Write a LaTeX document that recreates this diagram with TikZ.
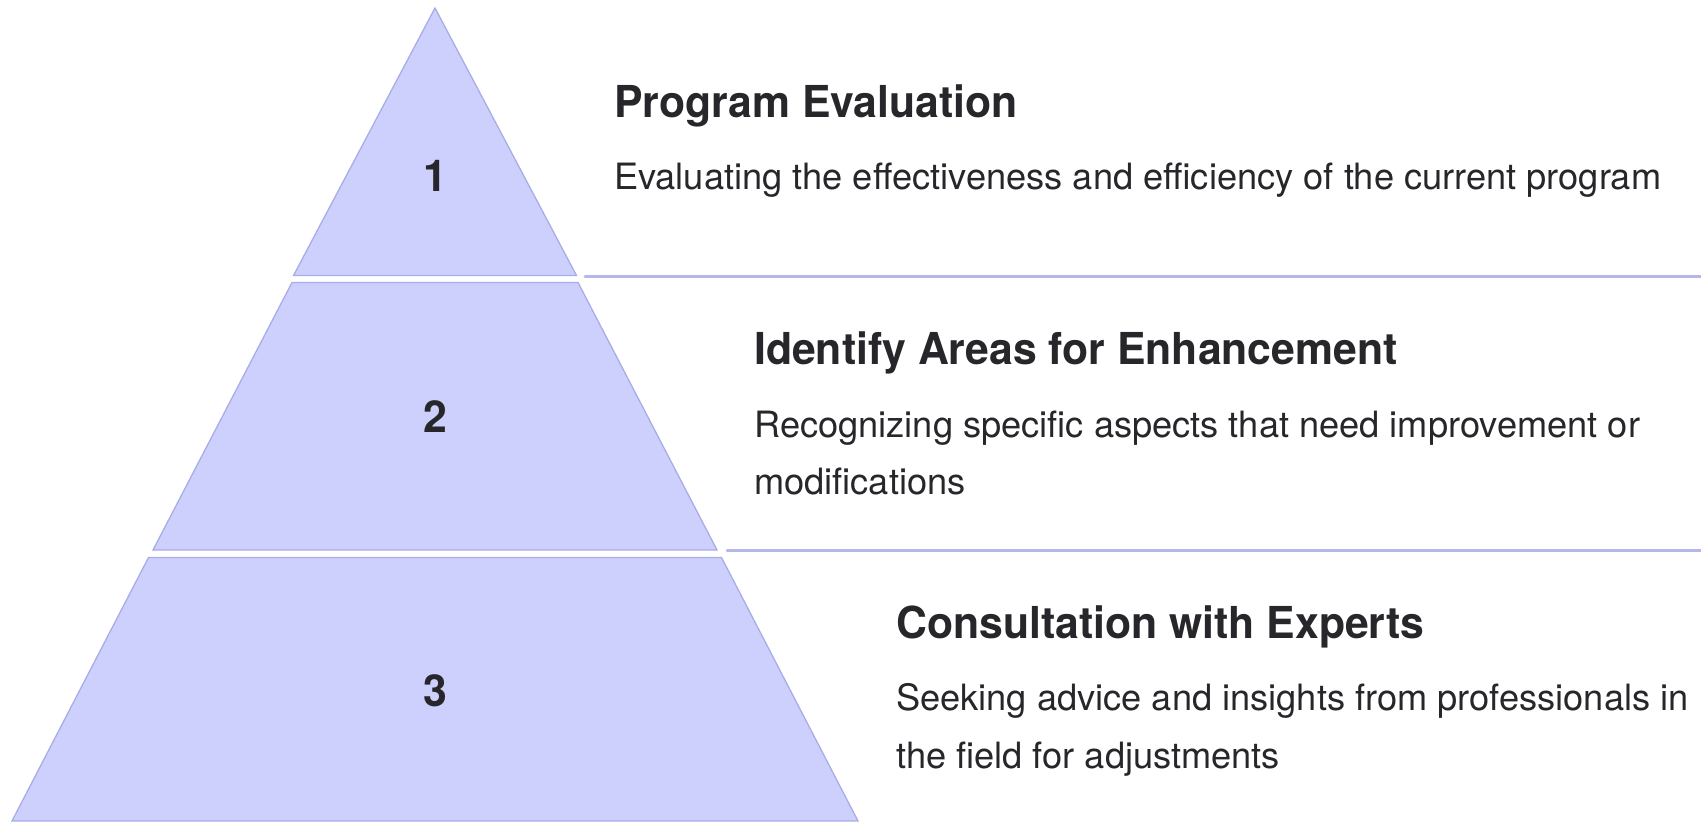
\documentclass[tikz,border=0pt]{standalone}
\usepackage{fontspec}
\setmainfont{TeX Gyre Heros}
\definecolor{tierfill}{HTML}{CDCFFD}
\definecolor{tierdraw}{HTML}{A9ADE6}
\definecolor{sepline}{HTML}{B3B7EA}
\definecolor{ink}{HTML}{27272B}
\newlength\mywa
\newlength\mywb
\newlength\mywc
\settowidth\mywa{\fontsize{44pt}{44pt}\selectfont\bfseries Program Evaluation}
\settowidth\mywb{\fontsize{44pt}{44pt}\selectfont\bfseries Identify Areas for Enhancement}
\settowidth\mywc{\fontsize{44pt}{44pt}\selectfont\bfseries Consultation with Experts}
\pgfmathsetmacro\stv{1575/(\mywa+\mywb+\mywc)}
\edef\mkttl{\noexpand\newfontfamily\noexpand\ttlfam[FakeStretch=\stv]{TeX Gyre Heros}}
\mkttl
\settowidth\mywa{\fontsize{10pt}{12pt}\selectfont Evaluating the effectiveness and efficiency of the current program}
\pgfmathsetmacro\bodysz{10*1047/\mywa}
\newcommand\ttlfont{\ttlfam\fontsize{44pt}{44pt}\selectfont\bfseries}
\newcommand\bdyfont{\fontsize{\bodysz pt}{\bodysz pt}\selectfont}
\tikzset{
  tier/.style={fill=tierfill, draw=tierdraw, line width=1.3pt, line join=miter},
  sepl/.style={draw=sepline, line width=3pt, line cap=round},
  ttl/.style={anchor=base west, inner sep=0pt, text=ink, font=\ttlfont},
  bodyl/.style={anchor=base west, inner sep=0pt, text=ink, font=\bdyfont},
  num/.style={anchor=base, inner sep=0pt, text=ink, font=\ttlfont},
}
\begin{document}
\begin{tikzpicture}[x=1pt, y=-1pt]
\useasboundingbox (0,0) rectangle (1701,823);
% tiers
\draw[tier] (435,8) -- (576.5,275.5) -- (293.5,275.5) -- cycle;
\draw[tier] (292,282.5) -- (578,282.5) -- (717,550) -- (153,550) -- cycle;
\draw[tier] (148.5,557.5) -- (721.5,557.5) -- (858,821) -- (12,821) -- cycle;
% separators
\coordinate (s1a) at (585,276.5);
\coordinate (s1b) at (1701,276.5);
\coordinate (s2a) at (727,550.5);
\coordinate (s2b) at (1701,550.5);
\draw[sepl] (s1a) -- (s1b);
\draw[sepl] (s2a) -- (s2b);
% numbers
\node[num] (n1) at (435,191) {1};
\node[num] (n2) at (435,432) {2};
\node[num] (n3) at (435,706) {3};
% texts
\node[ttl] (t1) at (614,117) {Program Evaluation};
\node[bodyl] (b1) at (614,189.5) {Evaluating the effectiveness and efficiency of the current program};
\node[ttl] (t2) at (754,364) {Identify Areas for Enhancement};
\node[bodyl] (b2a) at (754,437) {Recognizing specific aspects that need improvement or};
\node[bodyl] (b2b) at (754,494.7) {modifications};
\node[ttl] (t3) at (896,638) {Consultation with Experts};
\node[bodyl] (b3a) at (896,710.5) {Seeking advice and insights from professionals in};
\node[bodyl] (b3b) at (896,768) {the field for adjustments};
\end{tikzpicture}
\end{document}
